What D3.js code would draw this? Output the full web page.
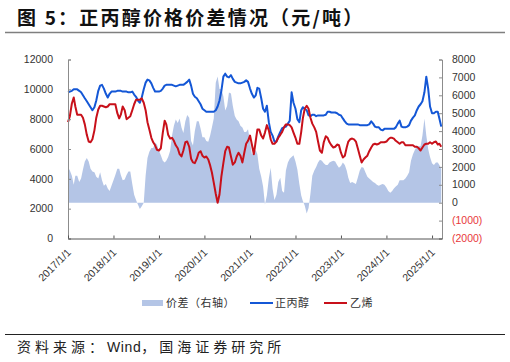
<!DOCTYPE html>
<html><head><meta charset="utf-8">
<script src="https://cdn.jsdelivr.net/npm/d3@7"></script>
<style>
body{margin:0;background:#fff;}
svg{display:block;}
</style></head><body>
<svg id="c" width="510" height="362"></svg>
<script>
const dates = [
"2017-01-01","2017-01-16","2017-02-01","2017-02-16","2017-03-01","2017-03-16","2017-04-01","2017-04-16","2017-05-01","2017-05-16","2017-06-01","2017-06-16","2017-07-01","2017-07-16","2017-08-01","2017-08-16","2017-09-01","2017-09-16","2017-10-01","2017-10-16","2017-11-01","2017-11-16","2017-12-01","2017-12-16",
"2018-01-01","2018-01-16","2018-02-01","2018-02-16","2018-03-01","2018-03-16","2018-04-01","2018-04-16","2018-05-01","2018-05-16","2018-06-01","2018-06-16","2018-07-01","2018-07-16","2018-08-01","2018-08-16","2018-09-01","2018-09-16","2018-10-01","2018-10-16","2018-11-01","2018-11-16","2018-12-01","2018-12-16",
"2019-01-01","2019-01-16","2019-02-01","2019-02-16","2019-03-01","2019-03-16","2019-04-01","2019-04-16","2019-05-01","2019-05-16","2019-06-01","2019-06-16","2019-07-01","2019-07-16","2019-08-01","2019-08-16","2019-09-01","2019-09-16","2019-10-01","2019-10-16","2019-11-01","2019-11-16","2019-12-01","2019-12-16",
"2020-01-01","2020-01-16","2020-02-01","2020-02-16","2020-03-01","2020-03-16","2020-04-01","2020-04-16","2020-05-01","2020-05-16","2020-06-01","2020-06-16","2020-07-01","2020-07-16","2020-08-01","2020-08-16","2020-09-01","2020-09-16","2020-10-01","2020-10-16","2020-11-01","2020-11-16","2020-12-01","2020-12-16",
"2021-01-01","2021-01-16","2021-02-01","2021-02-16","2021-03-01","2021-03-16","2021-04-01","2021-04-16","2021-05-01","2021-05-16","2021-06-01","2021-06-16","2021-07-01","2021-07-16","2021-08-01","2021-08-16","2021-09-01","2021-09-16","2021-10-01","2021-10-16","2021-11-01","2021-11-16","2021-12-01","2021-12-16",
"2022-01-01","2022-01-16","2022-02-01","2022-02-16","2022-03-01","2022-03-16","2022-04-01","2022-04-16","2022-05-01","2022-05-16","2022-06-01","2022-06-16","2022-07-01","2022-07-16","2022-08-01","2022-08-16","2022-09-01","2022-09-16","2022-10-01","2022-10-16","2022-11-01","2022-11-16","2022-12-01","2022-12-16",
"2023-01-01","2023-01-16","2023-02-01","2023-02-16","2023-03-01","2023-03-16","2023-04-01","2023-04-16","2023-05-01","2023-05-16","2023-06-01","2023-06-16","2023-07-01","2023-07-16","2023-08-01","2023-08-16","2023-09-01","2023-09-16","2023-10-01","2023-10-16","2023-11-01","2023-11-16","2023-12-01","2023-12-16",
"2024-01-01","2024-01-16","2024-02-01","2024-02-16","2024-03-01","2024-03-16","2024-04-01","2024-04-16","2024-05-01","2024-05-16","2024-06-01","2024-06-16","2024-07-01","2024-07-16","2024-08-01","2024-08-16","2024-09-01","2024-09-16","2024-10-01","2024-10-16","2024-11-01","2024-11-16","2024-12-01","2024-12-16",
"2025-01-01","2025-01-16","2025-02-01","2025-02-16","2025-03-01","2025-03-16"
];
const propanol = [
9800,9850,9900,10000,10000,10000,9900,9800,9600,9400,
9200,9000,8800,8600,8800,9250,9900,10250,10300,10050,
9700,9450,9700,9850,9850,9850,9900,9900,9900,9850,
9850,9850,9800,9800,9850,9650,9500,9250,9100,9450,
10000,10450,10650,10600,10400,10100,9850,9850,9850,9900,
10050,10250,10300,10300,10300,10300,10250,10200,10250,10300,
10300,10300,10400,10500,10650,10250,9700,9500,9400,9200,
9000,8700,8600,8500,8500,8500,8500,8500,8600,8850,
9250,9900,10850,11050,10850,10800,10950,10700,10500,10450,
10400,10400,10450,10500,10600,10500,10050,9700,9450,9600,
10100,10050,9400,8700,8500,8900,7800,7150,6900,6500,
6500,6850,7150,7400,7450,7500,7700,7900,9800,9100,
8700,8000,7800,8600,8800,8700,8600,8250,8200,8300,
8300,8200,8250,8250,8250,8250,8300,8500,8500,8450,
8450,8450,8400,8300,8250,8050,7850,7700,7650,7650,
7650,7650,7650,7650,7600,7600,7600,7600,7600,7650,
7850,7700,7500,7450,7450,7300,7250,7350,7350,7350,
7350,7350,7350,7450,7700,7900,7500,7450,7450,7500,
7600,7900,8100,8250,8600,8850,9000,9200,9800,10850,
10050,8850,8400,8400,8500,8500,8050,7500
];
const ethylene = [
7800,8200,9050,9450,8850,8300,8300,8300,8100,7650,
6950,6500,6450,6650,7250,8100,8650,8900,8900,8850,
8800,8850,9000,9000,9000,9000,8400,8050,8300,8850,
8600,8000,8100,8200,8600,9000,9300,9300,9300,9400,
9100,8600,7800,7300,6750,6450,6250,5950,5900,6050,
7100,7900,7650,6950,6700,6750,6550,6250,6050,5650,
5500,5900,6450,6500,6150,5350,5100,5050,5350,5750,
5850,5550,5430,5500,5300,4900,4425,3750,3000,2400,
2950,4150,5050,5850,6150,6100,5500,4950,5100,5500,
5750,5550,5100,5750,6350,6550,6900,6300,5650,6550,
7300,7300,6900,6700,7100,7600,7250,6650,6350,6350,
6500,6750,6950,7150,7450,7650,7650,7600,7450,7100,
6750,6350,6350,7150,8050,8700,8900,8700,8100,7700,
7450,7150,6500,5900,5750,6450,6850,6750,6450,6250,
6100,6150,6300,6250,5750,5430,5550,6100,6500,6650,
6700,6650,6500,6050,5550,5100,5300,5430,5550,5850,
6100,6300,6350,6300,6350,6450,6450,6450,6500,6650,
6750,6750,6700,6550,6450,6350,6450,6450,6250,6250,
6250,6250,6250,6150,6150,6050,5900,6100,6300,6350,
6350,6450,6350,6450,6500,6300,6350,6150
];
const spread = [
2000,1800,1500,1000,1500,1500,1150,1350,1850,2300,
2500,2300,1900,1750,1700,1450,1350,1700,1250,950,
1050,800,650,950,1250,1550,1900,1900,1550,1250,
1300,1550,1750,1750,1050,450,150,-100,-350,-200,
0,1500,2500,2850,3050,3050,3350,3250,2900,2650,
2350,2250,2350,2550,2900,3750,4300,4650,4450,4700,
4200,3900,4550,4900,4750,3450,3200,4000,4550,4550,
4150,3650,3650,3450,3400,3750,4200,4700,6700,7050,
6350,6350,5950,5150,5400,6150,6100,5400,4850,4650,
4550,4300,4200,3950,3950,4100,3450,2700,2800,2950,
2700,1900,1450,900,-100,400,1350,1950,800,150,
450,1150,1400,650,550,1800,2250,2450,2550,2650,
2300,1850,1050,400,100,-150,-600,-300,500,1500,
1800,2000,2250,2400,2350,2200,2100,2100,2250,2300,
2350,2300,2100,1950,2050,2250,2100,1800,1400,1100,
1150,1100,1050,1400,1800,2000,1950,1700,1450,1350,
1250,1150,1100,1000,950,1000,1050,1000,850,650,
550,650,800,900,1000,1250,1250,1250,1350,1500,
1700,2350,2700,2950,3150,3150,3150,3750,4700,3750,
3000,2550,2200,2100,2250,2250,2100,1900
];
const leftTicks = [0,2000,4000,6000,8000,10000,12000];
const rightTicks = [-2000,-1000,0,1000,2000,3000,4000,5000,6000,7000,8000];
const xTickLabels = ["2017/1/1","2018/1/1","2019/1/1","2020/1/1","2021/1/1","2022/1/1","2023/1/1","2024/1/1","2025/1/1"];
const titleText = "图 5：正丙醇价格价差情况（元/吨）";
const sourceParts = [["资料来源：", 4], ["Wind", 0.6], ["，国海证券研究所", 4]];
const legendLabels = ["价差（右轴）","正丙醇","乙烯"];

const svg = d3.select("#c");
const cjk = "'Noto Sans CJK SC','Noto Sans',sans-serif";
const latin = "'Liberation Sans',Arial,sans-serif";
const parse = d3.timeParse("%Y-%m-%d");
const parseTick = d3.timeParse("%Y/%m/%d");
const D = dates.map(parse);

const L = 68, R = 442, T = 59.5, B = 238.5;
const x = d3.scaleTime().domain([parse("2017-01-01"), parse("2025-03-22")]).range([L, R]);
const yL = d3.scaleLinear().domain([0, 12000]).range([B, T]);
const yR = d3.scaleLinear().domain([-2000, 8000]).range([B, T]);

// title
svg.append("text").attr("x", 17).attr("y", 25).attr("font-family", cjk).attr("font-weight", "bold")
  .attr("font-size", 19).attr("letter-spacing", 2.2).attr("fill", "#111").text(titleText);
svg.append("line").attr("x1", 5).attr("x2", 505).attr("y1", 32.5).attr("y2", 32.5).attr("stroke", "#7f7f7f").attr("stroke-width", 1.5);

// area
const area = d3.area().x((d, i) => x(D[i])).y0(yR(0)).y1(d => yR(d));
svg.append("path").datum(spread).attr("d", area).attr("fill", "#b4c5e6");

// lines
const lineL = d3.line().x((d, i) => x(D[i])).y(d => yL(d));
svg.append("path").datum(propanol).attr("d", lineL).attr("fill", "none").attr("stroke", "#1457d6").attr("stroke-width", 2).attr("stroke-linejoin", "round");
svg.append("path").datum(ethylene).attr("d", lineL).attr("fill", "none").attr("stroke", "#c8101a").attr("stroke-width", 2).attr("stroke-linejoin", "round");

// axes
const axL = svg.append("g").attr("transform", `translate(${L},0)`)
  .call(d3.axisRight(yL).tickValues(leftTicks).tickSize(3).tickFormat(""));
axL.selectAll("path,line").attr("stroke", "#8c8c8c");
svg.append("g").selectAll("text").data(leftTicks).join("text")
  .attr("x", 53).attr("y", d => yL(d)).attr("dy", "0.35em").attr("text-anchor", "end")
  .attr("font-family", latin).attr("font-size", 10.5).attr("fill", "#333").text(d => d);

const axR = svg.append("g").attr("transform", `translate(${R},0)`)
  .call(d3.axisLeft(yR).tickValues(rightTicks).tickSize(3).tickFormat(""));
axR.selectAll("path,line").attr("stroke", "#8c8c8c");
svg.append("g").selectAll("text").data(rightTicks).join("text")
  .attr("x", 452).attr("y", d => yR(d)).attr("dy", "0.35em")
  .attr("font-family", latin).attr("font-size", 10.5).attr("fill", d => d < 0 ? "#e8373a" : "#333")
  .text(d => d < 0 ? "(" + (-d) + ")" : d);

const tickDates = xTickLabels.map(parseTick);
const axB = svg.append("g").attr("transform", `translate(0,${B})`)
  .call(d3.axisBottom(x).tickValues(tickDates).tickSize(-3).tickSizeOuter(0).tickFormat(""));
axB.selectAll("path,line").attr("stroke", "#555");
svg.append("g").selectAll("text").data(xTickLabels).join("text")
  .attr("transform", (d, i) => `translate(${x(tickDates[i]) + 1},${B + 12}) rotate(-45)`)
  .attr("text-anchor", "end").attr("dy", "0.35em")
  .attr("font-family", latin).attr("font-size", 10.5).attr("fill", "#333").text(d => d);

// legend
const ly = 303;
svg.append("rect").attr("x", 142).attr("y", ly - 3).attr("width", 21).attr("height", 6).attr("fill", "#b4c5e6");
svg.append("line").attr("x1", 250).attr("x2", 273).attr("y1", ly).attr("y2", ly).attr("stroke", "#1457d6").attr("stroke-width", 2);
svg.append("line").attr("x1", 324).attr("x2", 347).attr("y1", ly).attr("y2", ly).attr("stroke", "#c8101a").attr("stroke-width", 2);
const lx = [166, 275, 350];
svg.append("g").selectAll("text").data(legendLabels).join("text")
  .attr("x", (d, i) => lx[i]).attr("y", ly).attr("dy", "0.35em")
  .attr("font-family", cjk).attr("font-size", 11).attr("letter-spacing", 0.5).attr("fill", "#333").text(d => d);

// footer
svg.append("line").attr("x1", 5).attr("x2", 505).attr("y1", 334.5).attr("y2", 334.5).attr("stroke", "#222").attr("stroke-width", 1);
const ft = svg.append("text").attr("x", 17).attr("y", 352).attr("font-family", cjk).attr("font-size", 14).attr("fill", "#222");
sourceParts.forEach(([t, ls]) => {
  ft.append("tspan").attr("letter-spacing", ls).attr("font-family", t === "Wind" ? latin : cjk).text(t);
});
</script>
</body></html>
